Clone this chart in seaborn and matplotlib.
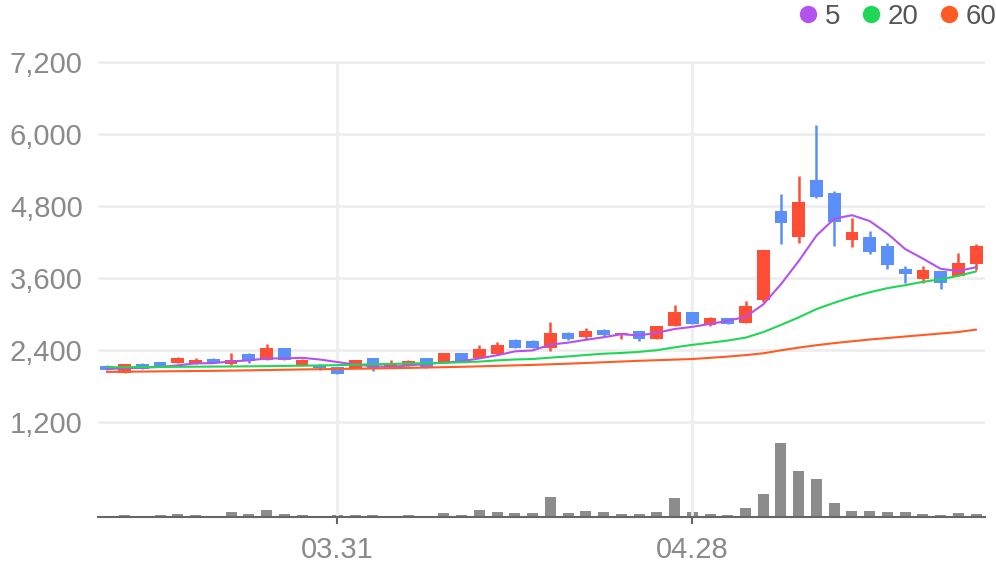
import numpy as np
import pandas as pd
import seaborn as sns
import matplotlib.pyplot as plt
from matplotlib.lines import Line2D

# trading days shown on the chart (labels as MM.DD)
dates = pd.bdate_range('2023-03-14', periods=50).strftime('%m.%d')

opens = [2133, 2022, 2167, 2200, 2183, 2167, 2250, 2167, 2333, 2233,
         2433, 2133, 2150, 2117, 2100, 2267, 2117, 2133, 2267, 2183,
         2350, 2267, 2333, 2567, 2550, 2433, 2683, 2617, 2733, 2650,
         2717, 2583, 2800, 3033, 2817, 2933, 2850, 3233, 4717, 4283,
         5233, 5017, 4233, 4283, 4133, 3750, 3583, 3717, 3633, 3833]
highs = [2150, 2167, 2183, 2200, 2283, 2267, 2261, 2350, 2350, 2500,
         2433, 2250, 2167, 2117, 2233, 2267, 2233, 2233, 2267, 2350,
         2350, 2483, 2533, 2583, 2567, 2867, 2700, 2767, 2750, 2683,
         2717, 2800, 3150, 3033, 2950, 2933, 3217, 4067, 5000, 5300,
         6150, 5050, 4600, 4383, 4183, 3800, 3800, 3717, 4017, 4167]
lows = [2067, 2022, 2088, 2133, 2183, 2167, 2183, 2150, 2183, 2233,
        2233, 2133, 2072, 2000, 2100, 2055, 2117, 2133, 2100, 2183,
        2200, 2267, 2317, 2433, 2433, 2383, 2567, 2583, 2633, 2583,
        2550, 2583, 2800, 2833, 2800, 2833, 2850, 3200, 4167, 4183,
        4933, 4133, 4117, 4000, 3750, 3517, 3517, 3417, 3633, 3733]
closes = [2067, 2167, 2088, 2133, 2267, 2233, 2183, 2233, 2217, 2433,
          2233, 2233, 2095, 2000, 2233, 2083, 2183, 2217, 2117, 2350,
          2200, 2417, 2483, 2433, 2433, 2683, 2583, 2717, 2650, 2683,
          2583, 2800, 3033, 2833, 2933, 2833, 3133, 4067, 4517, 4867,
          4950, 4533, 4367, 4033, 3817, 3667, 3733, 3517, 3850, 4133]
volumes = [13, 23, 15, 23, 33, 23, 13, 53, 33, 73,
           33, 23, 13, 23, 23, 23, 13, 23, 13, 43,
           23, 73, 53, 43, 43, 203, 43, 63, 53, 33,
           33, 53, 193, 53, 33, 23, 93, 233, 747, 463,
           383, 143, 63, 63, 53, 53, 33, 23, 43, 33]

ma5 = [2083, 2095, 2105, 2117, 2144, 2178, 2181, 2210, 2227, 2260,
       2260, 2270, 2242, 2199, 2159, 2129, 2119, 2143, 2167, 2190,
       2213, 2260, 2313, 2377, 2393, 2490, 2523, 2570, 2613, 2663,
       2643, 2687, 2750, 2786, 2836, 2886, 2953, 3160, 3497, 3883,
       4307, 4587, 4647, 4550, 4340, 4083, 3923, 3753, 3717, 3780]
ma20 = [2112, 2114, 2116, 2118, 2120, 2122, 2124, 2126, 2128, 2131,
        2135, 2139, 2143, 2148, 2155, 2162, 2168, 2175, 2181, 2188,
        2195, 2207, 2227, 2242, 2250, 2273, 2293, 2317, 2339, 2351,
        2369, 2397, 2444, 2486, 2521, 2558, 2606, 2698, 2818, 2944,
        3082, 3187, 3282, 3362, 3431, 3480, 3537, 3577, 3637, 3710]
ma60 = [2035, 2038, 2041, 2044, 2047, 2050, 2053, 2057, 2061, 2066,
        2071, 2076, 2080, 2084, 2088, 2092, 2097, 2102, 2108, 2114,
        2120, 2128, 2136, 2144, 2152, 2162, 2172, 2184, 2196, 2208,
        2220, 2230, 2240, 2250, 2270, 2290, 2315, 2345, 2395, 2440,
        2480, 2515, 2545, 2575, 2600, 2625, 2650, 2675, 2700, 2740]

tick_labels = ['03.31', '04.28']
price_ticks = [1200, 2400, 3600, 4800, 6000, 7200]
ma_names = ['5', '20', '60']

UP = '#ff4d36'
DOWN = '#5b8ff9'
MA_COLORS = ['#b452f0', '#1fd655', '#ff5b22']
VOL_COLOR = '#8c8c8c'

df = pd.DataFrame({
    'idx': np.arange(len(dates)), 'date': dates,
    'open': opens, 'high': highs, 'low': lows, 'close': closes,
    'volume': volumes, 'ma5': ma5, 'ma20': ma20, 'ma60': ma60,
})
df['up'] = df.close >= df.open
df['color'] = np.where(df.up, UP, DOWN)
df['body_lo'] = df[['open', 'close']].min(axis=1)
df['body_h'] = (df.close - df.open).abs()

sns.set_theme(style='white')
plt.rcParams['font.family'] = ['Liberation Sans', 'DejaVu Sans']

fig = plt.figure(figsize=(9.96, 5.67), dpi=100)
ax = fig.add_axes([98 / 996, 50 / 567, 887 / 996, 467 / 567])
ax_vol = ax.twinx()

# volume bars (behind the price axes)
sns.barplot(data=df, x='idx', y='volume', ax=ax_vol, color=VOL_COLOR,
            saturation=1, width=0.62, edgecolor='none')
ax_vol.set_ylim(0, 4700)
ax_vol.set_yticks([])
ax_vol.set_xlabel('')
ax_vol.set_ylabel('')
for s in ax_vol.spines.values():
    s.set_visible(False)

ax.set_zorder(ax_vol.get_zorder() + 1)
ax.patch.set_visible(False)

# candles
ax.vlines(df.idx, df.low, df.high, colors=df.color, linewidth=1.8, zorder=3)
ax.bar(df.idx, df.body_h, bottom=df.body_lo, width=0.72, color=df.color,
       linewidth=0, zorder=4)

# moving averages
for col, c in zip(['ma5', 'ma20', 'ma60'], MA_COLORS):
    sns.lineplot(data=df, x='idx', y=col, ax=ax, color=c, linewidth=1.5,
                 zorder=5)

ylo, yhi = -383, 7400
ax.set_ylim(ylo, yhi)
ax.set_xlim(-0.5, len(df) - 0.5)
ax.set_xlabel('')
ax.set_ylabel('')

ax.set_yticks(price_ticks)
ax.set_yticklabels([f'{v:,}' for v in price_ticks])
ax.grid(axis='y', color='#eeeeee', linewidth=2)
ax.grid(axis='x', visible=False)

tick_pos = [int(df.idx[df.date == t].iloc[0]) for t in tick_labels]
for p in tick_pos:
    ax.axvline(p, ymax=(price_ticks[-1] - ylo) / (yhi - ylo),
               color='#eeeeee', linewidth=2, zorder=0)
ax.set_xticks(tick_pos)
ax.set_xticklabels(tick_labels)

ax.tick_params(axis='y', length=0, pad=11, labelsize=21, labelcolor='#8a8a8a')
ax.tick_params(axis='x', length=5, width=1.5, color='#666666', pad=9,
               labelsize=21, labelcolor='#8a8a8a', bottom=True)
for side in ['top', 'right', 'left']:
    ax.spines[side].set_visible(False)
ax.spines['bottom'].set_color('#666666')
ax.spines['bottom'].set_linewidth(1.5)

handles = [Line2D([], [], marker='o', linestyle='', markersize=12.5,
                  markerfacecolor=c, markeredgewidth=0) for c in MA_COLORS]
leg = fig.legend(handles, ma_names, loc='upper right', ncol=3,
                 bbox_to_anchor=(1.006, 1.003), frameon=False, fontsize=20,
                 handlelength=0.8, handletextpad=0.2, columnspacing=0.7,
                 borderaxespad=0.1, borderpad=0.1)
for t in leg.get_texts():
    t.set_color('#555555')

fig.savefig('out.png', dpi=100)
